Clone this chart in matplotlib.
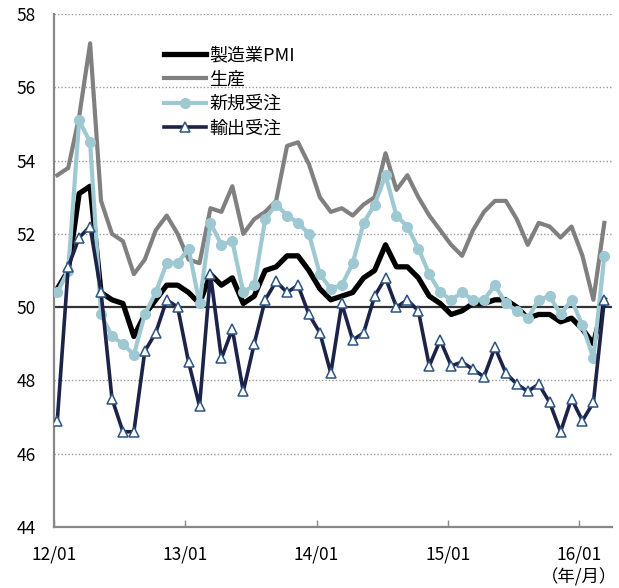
import matplotlib
matplotlib.use("Agg")
import matplotlib.pyplot as plt
import numpy as np

plt.rcParams['font.family'] = ['Noto Sans CJK JP', 'DejaVu Sans']

# monthly index values, 2012/01 - 2016/03
pmi = [50.5, 51.0, 53.1, 53.3, 50.4, 50.2, 50.1, 49.2, 49.8, 50.2, 50.6, 50.6,
       50.4, 50.1, 50.9, 50.6, 50.8, 50.1, 50.3, 51.0, 51.1, 51.4, 51.4, 51.0,
       50.5, 50.2, 50.3, 50.4, 50.8, 51.0, 51.7, 51.1, 51.1, 50.8, 50.3, 50.1,
       49.8, 49.9, 50.1, 50.1, 50.2, 50.2, 50.0, 49.7, 49.8, 49.8, 49.6, 49.7,
       49.4, 49.0, 50.2]
production = [53.6, 53.8, 55.2, 57.2, 52.9, 52.0, 51.8, 50.9, 51.3, 52.1, 52.5, 52.0,
              51.3, 51.2, 52.7, 52.6, 53.3, 52.0, 52.4, 52.6, 52.9, 54.4, 54.5, 53.9,
              53.0, 52.6, 52.7, 52.5, 52.8, 53.0, 54.2, 53.2, 53.6, 53.0, 52.5, 52.1,
              51.7, 51.4, 52.1, 52.6, 52.9, 52.9, 52.4, 51.7, 52.3, 52.2, 51.9, 52.2,
              51.4, 50.2, 52.3]
new_orders = [50.4, 51.0, 55.1, 54.5, 49.8, 49.2, 49.0, 48.7, 49.8, 50.4, 51.2, 51.2,
              51.6, 50.1, 52.3, 51.7, 51.8, 50.4, 50.6, 52.4, 52.8, 52.5, 52.3, 52.0,
              50.9, 50.5, 50.6, 51.2, 52.3, 52.8, 53.6, 52.5, 52.2, 51.6, 50.9, 50.4,
              50.2, 50.4, 50.2, 50.2, 50.6, 50.1, 49.9, 49.7, 50.2, 50.3, 49.8, 50.2,
              49.5, 48.6, 51.4]
export_orders = [46.9, 51.1, 51.9, 52.2, 50.4, 47.5, 46.6, 46.6, 48.8, 49.3, 50.2, 50.0,
                 48.5, 47.3, 50.9, 48.6, 49.4, 47.7, 49.0, 50.2, 50.7, 50.4, 50.6, 49.8,
                 49.3, 48.2, 50.1, 49.1, 49.3, 50.3, 50.8, 50.0, 50.2, 49.9, 48.4, 49.1,
                 48.4, 48.5, 48.3, 48.1, 48.9, 48.2, 47.9, 47.7, 47.9, 47.4, 46.6, 47.5,
                 46.9, 47.4, 50.2]
series_names = ['製造業PMI', '生産', '新規受注', '輸出受注']
tick_labels = ['12/01', '13/01', '14/01', '15/01', '16/01']
y_ticks = [44, 46, 48, 50, 52, 54, 56, 58]

# points sit a little after the start of each month on the date axis
months = np.arange(len(pmi)) + 0.3

fig = plt.figure(figsize=(6.19, 5.88), dpi=100)
ax = fig.add_axes([54 / 619, 61 / 588, 558 / 619, 513 / 588])

for y in y_ticks[1:]:
    if y != 50:
        ax.axhline(y, color='#9a9a9a', lw=1, ls=(0, (1, 1.5)), zorder=1)
ax.axhline(50, color='#333333', lw=1.6, zorder=1.5)

ax.plot(months, pmi, color='black', lw=3.8, solid_joinstyle='round', zorder=2,
        label=series_names[0])
ax.plot(months, production, color='#808080', lw=3.0, zorder=3, label=series_names[1])
ax.plot(months, new_orders, color='#9fc9d2', lw=3.0, marker='o', ms=7,
        markeredgecolor='#9fc9d2', zorder=4, label=series_names[2])
ax.plot(months, export_orders, color='#1d2248', lw=2.6, marker='^', ms=7.5,
        markerfacecolor='white', markeredgecolor='#2b5480', markeredgewidth=1.1,
        zorder=5, label=series_names[3])

ax.set_xlim(0, 51.0)
ax.set_ylim(44, 58)
ax.set_yticks(y_ticks)
ax.set_xticks(np.arange(0, 49, 12))
ax.set_xticklabels(tick_labels)

for side in ['top', 'right']:
    ax.spines[side].set_visible(False)
for side in ['left', 'bottom']:
    ax.spines[side].set_color('#888888')
    ax.spines[side].set_linewidth(1.6)

ax.tick_params(axis='y', length=0, pad=13, labelsize=12.5, colors='black')
ax.tick_params(axis='x', direction='in', length=5, width=1, color='#888888',
               pad=13, labelsize=12.5)

leg = ax.legend(loc='upper left', bbox_to_anchor=(164 / 619, 1 - 46 / 588),
                bbox_transform=fig.transFigure, frameon=False, fontsize=13,
                handlelength=2.35, handletextpad=0.15, labelspacing=0.36,
                borderpad=0, borderaxespad=0, numpoints=1)

fig.text(617 / 619, 1 - 577 / 588, '（年/月）', ha='right', va='center', fontsize=12.5)

fig.savefig('out.png', dpi=100)
